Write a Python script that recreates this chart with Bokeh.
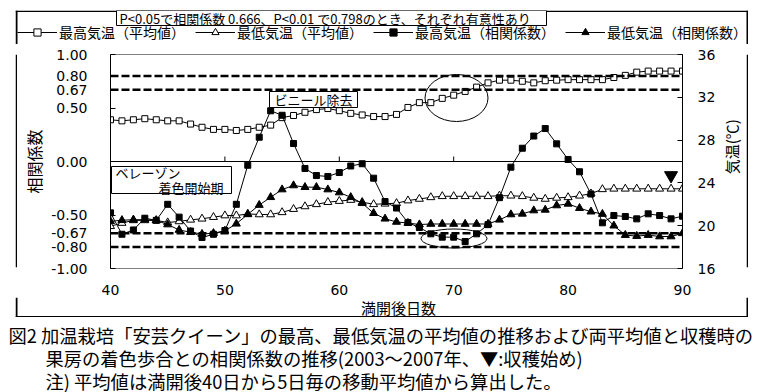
import math
from bokeh.plotting import figure
from bokeh.layouts import column, row
from bokeh.models import (Range1d, LinearAxis, FixedTicker, NumeralTickFormatter, Span,
                          Label, BoxAnnotation, Legend, LegendItem, Spacer)
from bokeh.embed import file_html
from bokeh.resources import INLINE

# ---------------- data ----------------
days = list(range(40, 91))
tmax_mean = [29.9, 29.8, 29.9, 30.0, 29.9, 29.8, 29.8, 29.5, 29.2, 29.0, 29.0,
             28.9, 29.0, 29.2, 29.4, 30.1, 30.3, 30.6, 30.85, 30.95, 30.75,
             30.5, 30.35, 30.2, 30.2, 30.4, 31.05, 31.5, 31.5, 31.9, 32.2,
             32.55, 32.95, 33.35, 33.6, 33.6, 33.5, 33.35, 33.55, 33.6, 33.65,
             33.65, 33.65, 33.65, 33.85, 34.05, 34.35, 34.45, 34.45, 34.45, 34.45]
tmin_mean = [19.95, 20.25, 20.5, 20.5, 20.5, 20.3, 20.4, 20.55, 20.65, 20.8, 20.95,
             20.95, 21.1, 21.05, 21.05, 21.25, 21.55, 21.8, 22.0, 22.2, 22.3,
             22.4, 22.2, 22.0, 22.05, 22.1, 22.35, 22.5, 22.65, 22.75, 22.75,
             22.75, 22.75, 22.75, 22.8, 22.8, 22.75, 22.6, 22.5, 22.6, 22.65,
             22.8, 23.0, 23.4, 23.45, 23.45, 23.45, 23.45, 23.45, 23.45, 23.45]
r_tmax = [-0.48, -0.68, -0.64, -0.53, -0.55, -0.40, -0.52, -0.65, -0.71, -0.68, -0.645,
          -0.40, -0.035, 0.227, 0.474, 0.432, 0.168, -0.065, -0.131, -0.14, -0.103,
          -0.042, -0.021, -0.156, -0.374, -0.435, -0.57, -0.617, -0.676, -0.707, -0.707,
          -0.748, -0.676, -0.59, -0.338, -0.053, 0.124, 0.238, 0.308, 0.165, 0.019,
          -0.096, -0.304, -0.573, -0.505, -0.514, -0.536, -0.489, -0.505, -0.536, -0.511]
r_tmin = [-0.559, -0.549, -0.544, -0.544, -0.551, -0.589, -0.640, -0.661, -0.678, -0.670, -0.648,
          -0.582, -0.494, -0.407, -0.334, -0.262, -0.224, -0.240, -0.240, -0.262, -0.290,
          -0.334, -0.390, -0.483, -0.535, -0.565, -0.575, -0.589, -0.584, -0.584, -0.584,
          -0.584, -0.584, -0.584, -0.545, -0.495, -0.489, -0.458, -0.452, -0.411, -0.396,
          -0.436, -0.469, -0.491, -0.600, -0.688, -0.697, -0.688, -0.701, -0.701, -0.671]
harvest_day = [89]
harvest_mark = [-0.13]
x_ticks = [40, 50, 60, 70, 80, 90]
r_ticks = [-1.0, -0.8, -0.67, -0.5, 0.0, 0.5, 0.67, 0.8, 1.0]
t_ticks = [16, 20, 24, 28, 32, 36]
sig_levels = [0.67, 0.80]

legend_labels = ["最高気温（平均値）", "最低気温（平均値）", "最高気温（相関係数）", "最低気温（相関係数）"]
sig_note = "P<0.05で相関係数 0.666、P<0.01 で0.798のとき、それぞれ有意性あり"
x_title = "満開後日数"
y_title = "相関係数"
y2_title = "気温(℃)"
caption = ["図2 加温栽培「安芸クイーン」の最高、最低気温の平均値の推移および両平均値と収穫時の",
           "果房の着色歩合との相関係数の推移(2003～2007年、▼:収穫始め)",
           "注) 平均値は満開後40日から5日毎の移動平均値から算出した。"]

JP = "Noto Sans CJK JP"
NUM = "DejaVu Sans"

# ---------------- layout geometry (page pixels) ----------------
BOX_L, BOX_R, BOX_T, BOX_B = 15, 748, 10, 316
EDGE = 2                         # width of the side strips of the outer frame
TOP_H = 34                       # legend / note strip: y 10..44
P_TOP, P_BOTTOM = 10, 28         # chart borders around the 214 px frame
MID_T = BOX_T + TOP_H            # 44
MID_H = P_TOP + 214 + P_BOTTOM   # 252
MID_B = MID_T + MID_H            # 296
BOT_H = BOX_B - MID_B            # 20
RT_W = 28

def blank(w, h, xr, yr, fill="white", alpha=0):
    f = figure(width=w, height=h, output_backend="svg", toolbar_location=None,
               x_range=Range1d(*xr), y_range=Range1d(*yr), x_axis_type=None, y_axis_type=None,
               min_border=0, background_fill_color=fill, background_fill_alpha=alpha,
               border_fill_color=fill, border_fill_alpha=alpha)
    f.outline_line_color = None
    f.grid.visible = False
    return f

# ---------------- main chart ----------------
p = figure(frame_width=572, frame_height=214, output_backend="svg", toolbar_location=None,
           x_range=Range1d(40, 90), y_range=Range1d(-1, 1),
           min_border_left=110 - BOX_L - EDGE, min_border_right=36, min_border_top=P_TOP,
           min_border_bottom=P_BOTTOM,
           background_fill_color="white", border_fill_color="white")
p.extra_y_ranges = {"temp": Range1d(16, 36)}
p.xgrid.visible = False
p.ygrid.visible = False
p.outline_line_color = "#808080"
p.outline_line_width = 1

# page-pixel helpers for in-plot annotations (page x 110 -> day 40, page y 161 -> r 0)
def dx(px):
    return 40 + (px - 110) / (572 / 50)

def dy(py):
    return (161 - py) / 107

xa = p.xaxis[0]
xa.ticker = FixedTicker(ticks=x_ticks)
xa.axis_line_color = None
xa.major_tick_line_color = None
xa.minor_tick_line_color = None
xa.major_label_standoff = 10
xa.major_label_text_font = NUM
xa.major_label_text_font_size = "14px"
xa.major_label_text_color = "black"

ya = p.yaxis[0]
ya.ticker = FixedTicker(ticks=r_ticks)
ya.formatter = NumeralTickFormatter(format="0.00")
ya.axis_line_color = "black"
ya.major_tick_in = 5
ya.major_tick_out = 0
ya.major_tick_line_color = "black"
ya.minor_tick_line_color = None
ya.major_label_standoff = 23
ya.major_label_text_font = NUM
ya.major_label_text_font_size = "14px"
ya.major_label_text_color = "black"
ya.axis_label = y_title
ya.axis_label_text_font = JP
ya.axis_label_text_font_size = "16px"
ya.axis_label_text_font_style = "normal"
ya.axis_label_text_color = "black"
ya.axis_label_standoff = 2

ra = LinearAxis(y_range_name="temp", ticker=FixedTicker(ticks=t_ticks))
ra.axis_line_color = "black"
ra.major_tick_in = 5
ra.major_tick_out = 0
ra.minor_tick_line_color = None
ra.major_label_standoff = 15
ra.major_label_text_font = NUM
ra.major_label_text_font_size = "14px"
ra.major_label_text_color = "black"
p.add_layout(ra, "right")

p.add_layout(Span(location=0, dimension="width", line_color="black", line_width=1))
for s in sig_levels:
    for sign in (1, -1):
        p.add_layout(Span(location=sign * s, dimension="width", line_color="black",
                          line_width=2.5, line_dash="8 3"))
p.segment(x0=x_ticks[1:-1], y0=[0] * 4, x1=x_ticks[1:-1], y1=[5 / 107] * 4,
          line_color="black", line_width=1)

p.line(days, tmax_mean, y_range_name="temp", line_color="black", line_width=1)
p.scatter(days, tmax_mean, y_range_name="temp", marker="square", size=6,
          fill_color="white", line_color="black", line_width=1)
p.line(days, tmin_mean, y_range_name="temp", line_color="black", line_width=1)
p.scatter(days, tmin_mean, y_range_name="temp", marker="triangle", size=8,
          fill_color="white", line_color="black", line_width=1)
p.line(days, r_tmax, line_color="black", line_width=1)
p.scatter(days, r_tmax, marker="square", size=6, fill_color="black", line_color="black")
p.line(days, r_tmin, line_color="black", line_width=1)
p.scatter(days, r_tmin, marker="triangle", size=8, fill_color="black", line_color="black")
p.scatter(harvest_day, harvest_mark, marker="inverted_triangle", size=13,
          fill_color="black", line_color="black")

p.ellipse(x=[dx(456), dx(453.5)], y=[dy(97.5), dy(238)],
          width=[63 / 11.44, 66 / 11.44], height=[47 / 107, 19 / 107],
          fill_color=None, line_color="black", line_width=1)

p.add_layout(BoxAnnotation(left=dx(269), right=dx(357), top=dy(91), bottom=dy(107),
                           fill_color="white", fill_alpha=1, line_color="black",
                           line_alpha=1, line_width=1))
p.add_layout(Label(x=dx(313), y=dy(99), text="ビニール除去", text_font=JP, text_font_size="13px",
                   text_align="center", text_baseline="middle", text_color="black"))
p.add_layout(BoxAnnotation(left=dx(111), right=dx(231), top=dy(166), bottom=dy(193),
                           fill_color="white", fill_alpha=1, line_color="black",
                           line_alpha=1, line_width=1))
p.add_layout(Label(x=dx(115), y=dy(172), text="ベレーゾン", text_font=JP, text_font_size="13px",
                   text_align="left", text_baseline="middle", text_color="black"))
p.add_layout(Label(x=dx(223), y=dy(187), text="着色開始期", text_font=JP, text_font_size="13px",
                   text_align="right", text_baseline="middle", text_color="black"))

# ---------------- side strips of the boxed area ----------------
lstrip = blank(EDGE, MID_H, (0, 1), (0, 1))
lstrip.quad(left=[0], right=[1], bottom=[0], top=[1], fill_color="black", line_color=None)
rstrip = blank(EDGE, MID_H, (0, 1), (0, 1))
rstrip.quad(left=[0], right=[1], bottom=[0], top=[1], fill_color="black", line_color=None)
rt = blank(RT_W, MID_H, (BOX_R - EDGE - RT_W, BOX_R - EDGE), (MID_B, MID_T))
rt.add_layout(Label(x=731, y=153, text=y2_title, angle=math.pi / 2, text_font=JP,
                    text_font_size="15px", text_align="center", text_baseline="middle",
                    text_color="black"))

# ---------------- top strip: outer frame top, note box, legend ----------------
top = blank(BOX_R - BOX_L, TOP_H, (BOX_L, BOX_R), (MID_T, BOX_T))
top.quad(left=[BOX_L, BOX_L, BOX_R - EDGE], right=[BOX_R, BOX_L + EDGE, BOX_R],
         top=[BOX_T, BOX_T, BOX_T], bottom=[BOX_T + 1.5, MID_T, MID_T],
         fill_color="black", line_color=None)
top.add_layout(BoxAnnotation(left=116, right=546, top=10, bottom=25, fill_color="white",
                             fill_alpha=1, line_color="black", line_alpha=1, line_width=1))
top.add_layout(Label(x=119, y=17.5, text=sig_note, text_font=JP, text_font_size="13px",
                     text_align="left", text_baseline="middle", text_color="black"))
off = dict(x=[-999], y=[-999])
k1 = [top.line(**off, line_color="black"),
      top.scatter(**off, marker="square", size=6, fill_color="white", line_color="black")]
k2 = [top.line(**off, line_color="black"),
      top.scatter(**off, marker="triangle", size=8, fill_color="white", line_color="black")]
k3 = [top.line(**off, line_color="black"),
      top.scatter(**off, marker="square", size=6, fill_color="black", line_color="black")]
k4 = [top.line(**off, line_color="black"),
      top.scatter(**off, marker="triangle", size=8, fill_color="black", line_color="black")]
legend = Legend(items=[LegendItem(label=legend_labels[0], renderers=k1),
                       LegendItem(label=legend_labels[1], renderers=k2),
                       LegendItem(label=legend_labels[2], renderers=k3),
                       LegendItem(label=legend_labels[3], renderers=k4)],
                location=(EDGE, 2), orientation="horizontal", glyph_width=40, glyph_height=18,
                label_standoff=2, spacing=10, padding=0, margin=0, border_line_color=None,
                background_fill_alpha=0, label_text_font=JP, label_text_font_size="14px",
                label_text_color="black", label_height=18)
top.add_layout(legend)

# ---------------- bottom strip: x-axis title and outer frame bottom ----------------
bot = blank(BOX_R - BOX_L, BOT_H, (BOX_L, BOX_R), (BOX_B, MID_B))
bot.quad(left=[BOX_L, BOX_L, BOX_R - EDGE], right=[BOX_R, BOX_L + EDGE, BOX_R],
         top=[BOX_B - 1.5, MID_B, MID_B], bottom=[BOX_B, BOX_B, BOX_B],
         fill_color="black", line_color=None)
bot.add_layout(Label(x=398, y=306, text=x_title, text_font=JP, text_font_size="15px",
                     text_align="center", text_baseline="middle", text_color="black"))

boxed = column(children=[row(children=[top]),
                         row(children=[lstrip, p, rt, rstrip]),
                         row(children=[bot])])

# ---------------- caption ----------------
CAP_H = 392 - BOX_B
cap = blank(761, CAP_H, (0, 761), (392, BOX_B))
cap_pos = [(8, 333), (45, 356), (45, 379)]
for (cx, cy), t in zip(cap_pos, caption):
    cap.add_layout(Label(x=cx, y=cy, text=t, text_font=JP, text_font_size="18.3px",
                         text_align="left", text_baseline="middle", text_color="black"))

root = column(children=[Spacer(width=761, height=BOX_T),
                        row(children=[Spacer(width=BOX_L, height=10), boxed]),
                        cap])
open("out.html", "w").write(file_html(root, INLINE))
